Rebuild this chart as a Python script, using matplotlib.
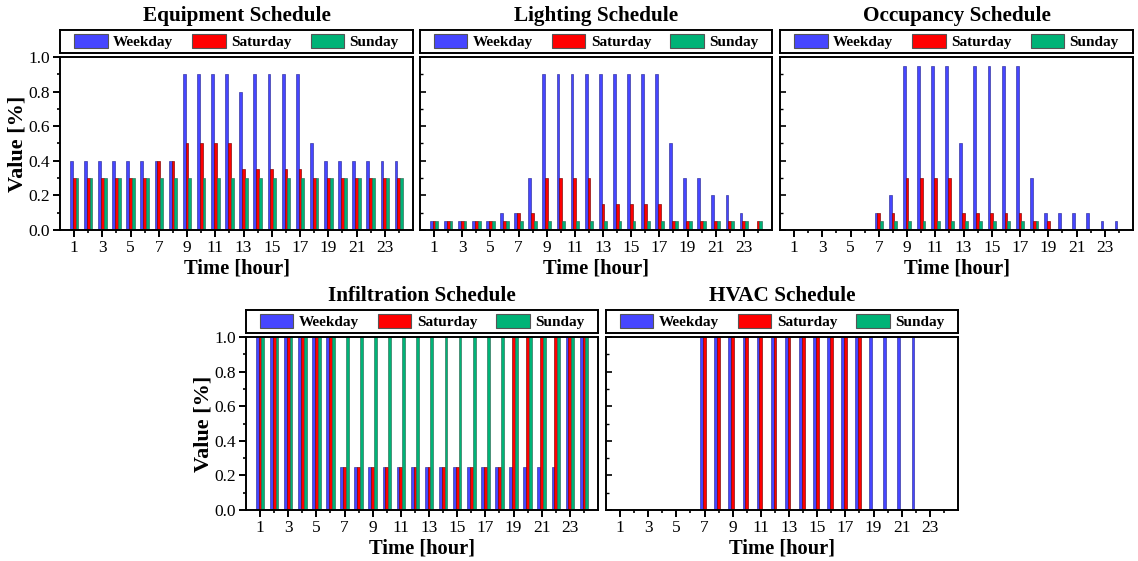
import matplotlib
matplotlib.use('Agg')
import matplotlib.pyplot as plt
from matplotlib.ticker import MultipleLocator, FixedLocator, FormatStrFormatter
from matplotlib.patches import Patch
import numpy as np

hours = list(range(1, 25))
series_names = ['Weekday', 'Saturday', 'Sunday']
colors = ['#4646FF', '#FF0000', '#00B377']
edge_colors = ['#2E2E9A', '#7A0000', '#2F6B55']

equip_weekday = [0.4, 0.4, 0.4, 0.4, 0.4, 0.4, 0.4, 0.4, 0.9, 0.9, 0.9, 0.9,
                 0.8, 0.9, 0.9, 0.9, 0.9, 0.5, 0.4, 0.4, 0.4, 0.4, 0.4, 0.4]
equip_saturday = [0.3, 0.3, 0.3, 0.3, 0.3, 0.3, 0.4, 0.4, 0.5, 0.5, 0.5, 0.5,
                  0.35, 0.35, 0.35, 0.35, 0.35, 0.3, 0.3, 0.3, 0.3, 0.3, 0.3, 0.3]
equip_sunday = [0.3, 0.3, 0.3, 0.3, 0.3, 0.3, 0.3, 0.3, 0.3, 0.3, 0.3, 0.3,
                0.3, 0.3, 0.3, 0.3, 0.3, 0.3, 0.3, 0.3, 0.3, 0.3, 0.3, 0.3]

light_weekday = [0.05, 0.05, 0.05, 0.05, 0.05, 0.1, 0.1, 0.3, 0.9, 0.9, 0.9, 0.9,
                 0.9, 0.9, 0.9, 0.9, 0.9, 0.5, 0.3, 0.3, 0.2, 0.2, 0.1, 0.0]
light_saturday = [0.05, 0.05, 0.05, 0.05, 0.05, 0.05, 0.1, 0.1, 0.3, 0.3, 0.3, 0.3,
                  0.15, 0.15, 0.15, 0.15, 0.15, 0.05, 0.05, 0.05, 0.05, 0.05, 0.05, 0.05]
light_sunday = [0.05, 0.05, 0.05, 0.05, 0.05, 0.05, 0.05, 0.05, 0.05, 0.05, 0.05, 0.05,
                0.05, 0.05, 0.05, 0.05, 0.05, 0.05, 0.05, 0.05, 0.05, 0.05, 0.05, 0.05]

occ_weekday = [0, 0, 0, 0, 0, 0, 0.1, 0.2, 0.95, 0.95, 0.95, 0.95,
               0.5, 0.95, 0.95, 0.95, 0.95, 0.3, 0.1, 0.1, 0.1, 0.1, 0.05, 0.05]
occ_saturday = [0, 0, 0, 0, 0, 0, 0.1, 0.1, 0.3, 0.3, 0.3, 0.3,
                0.1, 0.1, 0.1, 0.1, 0.1, 0.05, 0.05, 0, 0, 0, 0, 0]
occ_sunday = [0, 0, 0, 0, 0, 0, 0.05, 0.05, 0.05, 0.05, 0.05, 0.05,
              0.05, 0.05, 0.05, 0.05, 0.05, 0.05, 0, 0, 0, 0, 0, 0]

inf_weekday = [1, 1, 1, 1, 1, 1, 0.25, 0.25, 0.25, 0.25, 0.25, 0.25,
               0.25, 0.25, 0.25, 0.25, 0.25, 0.25, 0.25, 0.25, 0.25, 0.25, 1, 1]
inf_saturday = [1, 1, 1, 1, 1, 1, 0.25, 0.25, 0.25, 0.25, 0.25, 0.25,
                0.25, 0.25, 0.25, 0.25, 0.25, 0.25, 1, 1, 1, 1, 1, 1]
inf_sunday = [1, 1, 1, 1, 1, 1, 1, 1, 1, 1, 1, 1,
              1, 1, 1, 1, 1, 1, 1, 1, 1, 1, 1, 1]

hvac_weekday = [0, 0, 0, 0, 0, 0, 1, 1, 1, 1, 1, 1,
                1, 1, 1, 1, 1, 1, 1, 1, 1, 1, 0, 0]
hvac_saturday = [0, 0, 0, 0, 0, 0, 1, 1, 1, 1, 1, 1,
                 1, 1, 1, 1, 1, 1, 0, 0, 0, 0, 0, 0]
hvac_sunday = [0, 0, 0, 0, 0, 0, 0, 0, 0, 0, 0, 0,
               0, 0, 0, 0, 0, 0, 0, 0, 0, 0, 0, 0]

panels = [
    ('Equipment Schedule', [equip_weekday, equip_saturday, equip_sunday]),
    ('Lighting Schedule', [light_weekday, light_saturday, light_sunday]),
    ('Occupancy Schedule', [occ_weekday, occ_saturday, occ_sunday]),
    ('Infiltration Schedule', [inf_weekday, inf_saturday, inf_sunday]),
    ('HVAC Schedule', [hvac_weekday, hvac_saturday, hvac_sunday]),
]

plt.rcParams['font.family'] = ['Liberation Serif', 'DejaVu Serif']

W, H = 1138, 561
fig = plt.figure(figsize=(W / 100, H / 100), dpi=100)

# axes pixel boxes: (left, top, right, bottom)
boxes = [
    (60, 57, 413, 230),
    (420, 57, 772, 230),
    (780, 57, 1133, 230),
    (246, 337, 598, 510),
    (606, 337, 958, 510),
]
left_panels = {0, 3}

def fig_rect(l, t, r, b):
    return [l / W, 1 - b / H, (r - l) / W, (b - t) / H]

x = np.array(hours, dtype=float)
bw = 0.2
offsets = [-bw, 0.0, bw]

for i, ((title, data), (l, t, r, b)) in enumerate(zip(panels, boxes)):
    ax = fig.add_axes(fig_rect(l, t, r, b))
    for k in range(3):
        vals = np.array(data[k], dtype=float)
        ax.bar(x + offsets[k], vals, width=bw, color=colors[k],
               edgecolor=edge_colors[k], linewidth=0.45, zorder=2)
    ax.set_xlim(0, 25)
    ax.set_ylim(0, 1.0)
    ax.xaxis.set_major_locator(FixedLocator(list(range(1, 24, 2))))
    ax.xaxis.set_minor_locator(FixedLocator(list(range(2, 25, 2))))
    ax.yaxis.set_major_locator(MultipleLocator(0.2))
    ax.yaxis.set_minor_locator(MultipleLocator(0.1))
    for sp in ax.spines.values():
        sp.set_linewidth(1.4)
        sp.set_zorder(5)
    ax.tick_params(axis='x', which='major', direction='out', length=5, width=1.4,
                   labelsize=12.5, pad=2)
    ax.tick_params(axis='x', which='minor', direction='out', length=2.5, width=1.2)
    if i in left_panels:
        ax.tick_params(axis='y', which='major', direction='out', length=5, width=1.4,
                       labelsize=12.5, pad=2)
        ax.tick_params(axis='y', which='minor', direction='out', length=2.5, width=1.2)
        ax.yaxis.set_major_formatter(FormatStrFormatter('%.1f'))
        ax.set_ylabel('Value [%]', fontsize=16, fontweight='bold', labelpad=1)
    else:
        ax.tick_params(axis='y', which='major', direction='in', length=4, width=1.2,
                       labelleft=False)
        ax.tick_params(axis='y', which='minor', direction='in', length=2, width=1.0)
    ax.set_xlabel('Time [hour]', fontsize=14.8, fontweight='bold', labelpad=2)

    # legend box above axes
    lax = fig.add_axes(fig_rect(l, t - 27, r, t - 4))
    lax.set_xticks([])
    lax.set_yticks([])
    for sp in lax.spines.values():
        sp.set_linewidth(1.4)
    handles = [Patch(facecolor=colors[k], edgecolor='#555555', linewidth=0.8)
               for k in range(3)]
    lax.legend(handles, series_names, loc='center', ncol=3, frameon=False,
               prop={'weight': 'bold', 'size': 11}, handlelength=2.2,
               handleheight=1.0, handletextpad=0.35, columnspacing=1.25,
               borderaxespad=0, borderpad=0)
    fig.text((l + r) / 2 / W, 1 - (t - 41) / H, title, ha='center', va='center',
             fontsize=15.3, fontweight='bold')

fig.savefig('out.png', dpi=100)
